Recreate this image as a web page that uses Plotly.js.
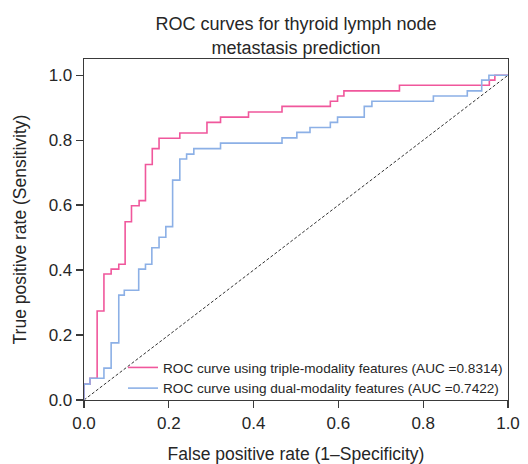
<!DOCTYPE html>
<html>
<head>
<meta charset="utf-8">
<script src="https://cdn.plot.ly/plotly-3.0.1.min.js"></script>
<style>html,body{margin:0;padding:0;background:#fff;}#chart{width:528px;height:464px;}</style>
</head>
<body>
<div id="chart"></div>
<script>
const titleText = "ROC curves for thyroid lymph node<br>metastasis prediction";
const xTitle = "False positive rate (1\u2013Specificity)";
const yTitle = "True positive rate (Sensitivity)";
const tickVals = [0, 0.2, 0.4, 0.6, 0.8, 1.0];
const tickText = ["0.0", "0.2", "0.4", "0.6", "0.8", "1.0"];

const nameTriple = "ROC curve using triple-modality features (AUC =0.8314)";
const fprTriple = [0, 0, 0.014, 0.031, 0.047, 0.064, 0.082, 0.097, 0.112, 0.130, 0.145, 0.161, 0.177, 0.226, 0.290, 0.322, 0.388, 0.467, 0.581, 0.598, 0.613, 0.744, 0.956, 0.969, 1.0];
const tprTriple = [0, 0.049, 0.067, 0.274, 0.388, 0.403, 0.418, 0.549, 0.598, 0.614, 0.725, 0.774, 0.806, 0.822, 0.855, 0.871, 0.887, 0.904, 0.920, 0.936, 0.952, 0.969, 0.985, 1.0, 1.0];

const nameDual = "ROC curve using dual-modality features (AUC =0.7422)";
const fprDual = [0, 0, 0.014, 0.047, 0.064, 0.082, 0.095, 0.129, 0.145, 0.160, 0.177, 0.193, 0.209, 0.226, 0.242, 0.259, 0.322, 0.467, 0.502, 0.533, 0.581, 0.598, 0.661, 0.679, 0.824, 0.904, 0.938, 0.955, 1.0];
const tprDual = [0, 0.049, 0.067, 0.098, 0.176, 0.323, 0.338, 0.403, 0.418, 0.469, 0.501, 0.534, 0.677, 0.742, 0.757, 0.774, 0.791, 0.807, 0.824, 0.839, 0.855, 0.871, 0.904, 0.920, 0.936, 0.952, 0.985, 1.0, 1.0];

const diagX = [0, 1];
const diagY = [0, 1];

const fontFam = "'Liberation Sans', Arial, Helvetica, sans-serif";
const txtColor = "#262626";

const traces = [
  {x: diagX, y: diagY, mode: "lines", showlegend: false, hoverinfo: "skip",
   line: {color: "#333333", width: 1, dash: "3px,2px"}},
  {x: fprTriple, y: tprTriple, mode: "lines", name: nameTriple,
   line: {color: "#f0579c", width: 1.6, shape: "hv"}},
  {x: fprDual, y: tprDual, mode: "lines", name: nameDual,
   line: {color: "#8cb0e6", width: 1.6, shape: "hv"}}
];

const axisCommon = {
  showgrid: false, zeroline: false, showline: true, mirror: true,
  linecolor: "#3a3a3a", linewidth: 1.3,
  ticks: "outside", ticklen: 7, tickwidth: 1.3, tickcolor: "#3a3a3a",
  tickfont: {family: fontFam, size: 17, color: txtColor},
  tickvals: tickVals, ticktext: tickText
};

const layout = {
  width: 528, height: 464,
  margin: {l: 84, r: 20, t: 59, b: 64},
  paper_bgcolor: "#ffffff", plot_bgcolor: "#ffffff",
  font: {family: fontFam, color: txtColor},
  title: {text: titleText, x: 0.5, xref: "paper", xanchor: "center",
          y: 0.935, yref: "container", yanchor: "top",
          font: {family: fontFam, size: 18, color: txtColor}},
  xaxis: Object.assign({}, axisCommon, {range: [0, 1],
    title: {text: xTitle, standoff: 16, font: {family: fontFam, size: 17.5, color: txtColor}}}),
  yaxis: Object.assign({}, axisCommon, {range: [0, 1.05],
    title: {text: yTitle, standoff: 17, font: {family: fontFam, size: 17.5, color: txtColor}}}),
  showlegend: true,
  legend: {x: 1, xanchor: "right", y: -0.012, yanchor: "bottom",
           bgcolor: "rgba(255,255,255,0)", borderwidth: 0,
           itemwidth: 30, tracegroupgap: 0,
           font: {family: fontFam, size: 13.6, color: txtColor}}
};

Plotly.newPlot("chart", traces, layout, {displayModeBar: false, staticPlot: true});
</script>
</body>
</html>
